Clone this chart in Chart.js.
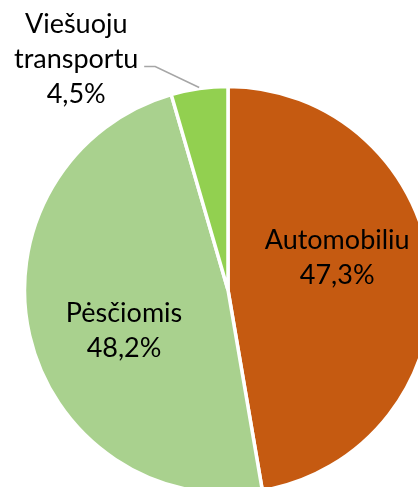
<!DOCTYPE html>
<html>
<head>
<meta charset="utf-8">
<script src="https://cdn.jsdelivr.net/npm/chart.js@4"></script>
<style>
  html, body { margin: 0; padding: 0; background: #fff; overflow: hidden; }
  #wrap { position: absolute; left: 0; top: 0; width: 418px; height: 487px; }
</style>
</head>
<body>
<div id="wrap"><canvas id="pie"></canvas></div>
<script>
const labels = ['Automobiliu', 'Pėsčiomis', 'Viešuoju transportu'];
const shares = [47.3, 48.2, 4.5];
const labelLines = [['Automobiliu'], ['Pėsčiomis'], ['Viešuoju', 'transportu']];
const colors = ['#C55A11', '#A9D18E', '#92D050'];

const fmt = v => v.toFixed(1).replace('.', ',') + '%';

// Beschriftungen selbst zeichnen (innen bzw. außen mit Führungslinie)
const sliceLabels = {
  id: 'sliceLabels',
  afterDatasetsDraw(chart) {
    const ctx = chart.ctx;
    const arcs = chart.getDatasetMeta(0).data;
    ctx.save();
    ctx.font = '27px Lato';
    ctx.fillStyle = '#000';
    ctx.textAlign = 'center';
    ctx.textBaseline = 'alphabetic';
    const lh = 35;
    arcs.forEach((arc, i) => {
      const { x, y, startAngle, endAngle, outerRadius } = arc.getProps(['x', 'y', 'startAngle', 'endAngle', 'outerRadius'], true);
      const mid = (startAngle + endAngle) / 2;
      const lines = [...labelLines[i], fmt(shares[i])];
      if (shares[i] > 10) {
        const a = mid - 10 * Math.PI / 180;
        const r = outerRadius * 0.555;
        const cx = x + Math.cos(a) * r;
        const cy = y + Math.sin(a) * r;
        const top = cy - (lines.length - 1) * lh / 2 + 5;
        lines.forEach((t, k) => ctx.fillText(t, cx, top + k * lh));
      } else {
        const px = x + Math.cos(mid) * (outerRadius + 1);
        const py = y + Math.sin(mid) * (outerRadius + 1);
        const ex = px - 44, ey = py - 21;
        ctx.strokeStyle = '#A6A6A6';
        ctx.lineWidth = 1.5;
        ctx.beginPath();
        ctx.moveTo(px, py);
        ctx.lineTo(ex, ey);
        ctx.lineTo(ex - 11, ey);
        ctx.stroke();
        const cx = ex - 79;
        lines.forEach((t, k) => ctx.fillText(t, cx, ey + 1.5 - lh + k * lh));
      }
    });
    ctx.restore();
  }
};

new Chart(document.getElementById('pie'), {
  type: 'pie',
  data: {
    labels: labels,
    datasets: [{
      data: shares,
      backgroundColor: colors,
      borderColor: '#fff',
      borderWidth: 3.5,
      clip: false
    }]
  },
  options: {
    responsive: true,
    maintainAspectRatio: false,
    animation: false,
    radius: 203.5,
    layout: { padding: { left: 38, right: 0, top: 93, bottom: 0 } },
    plugins: { legend: { display: false }, tooltip: { enabled: false } }
  },
  plugins: [sliceLabels]
});
</script>
</body>
</html>
